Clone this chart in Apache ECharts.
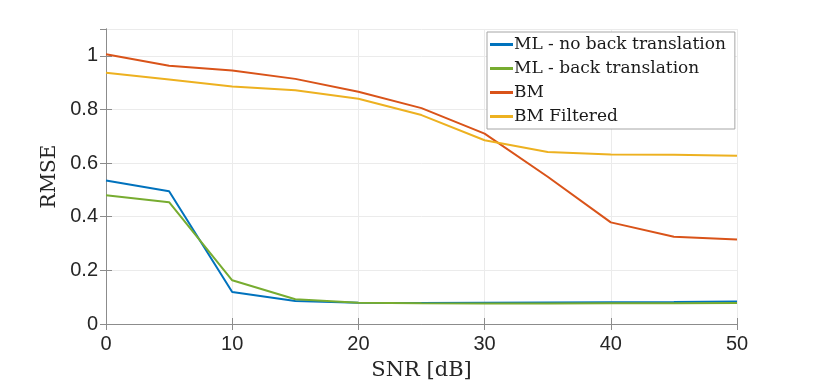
<!DOCTYPE html>
<html>
<head>
<meta charset="utf-8">
<script src="https://cdn.jsdelivr.net/npm/echarts@6/dist/echarts.min.js"></script>
<style>
  html, body { margin: 0; padding: 0; background: #fff; }
  #main { width: 814px; height: 387px; }
</style>
</head>
<body>
<div id="main"></div>
<script>
const snr = [0, 5, 10, 15, 20, 25, 30, 35, 40, 45, 50];
const mlNoBack = [0.535, 0.495, 0.119, 0.086, 0.079, 0.078, 0.079, 0.080, 0.081, 0.082, 0.084];
const mlBack = [0.480, 0.454, 0.163, 0.092, 0.079, 0.077, 0.076, 0.076, 0.077, 0.077, 0.078];
const bm = [1.006, 0.963, 0.945, 0.914, 0.866, 0.805, 0.710, 0.549, 0.379, 0.325, 0.315];
const bmFiltered = [0.937, 0.912, 0.886, 0.872, 0.840, 0.779, 0.685, 0.641, 0.632, 0.631, 0.627];

const seriesNames = ['ML - no back translation', 'ML - back translation', 'BM', 'BM Filtered'];
const seriesColors = ['#0072BD', '#77AC30', '#D95319', '#EDB120'];
const seriesData = [mlNoBack, mlBack, bm, bmFiltered];

const chart = echarts.init(document.getElementById('main'));

const axisLineStyle = { color: '#8c8c8c', width: 1 };
const tickLabel = { color: '#262626', fontFamily: 'Liberation Sans', fontSize: 20 };

const option = {
  backgroundColor: '#fff',
  animation: false,
  grid: { left: 106, right: 77, top: 29, bottom: 63, containLabel: false },
  legend: {
    orient: 'vertical',
    left: 487,
    top: 32,
    itemWidth: 23,
    itemHeight: 3,
    itemGap: 7,
    padding: [4, 9, 4, 3],
    icon: 'rect',
    backgroundColor: '#fff',
    borderColor: '#a6a6a6',
    borderWidth: 1,
    borderRadius: 0,
    textStyle: { fontFamily: 'DejaVu Serif', fontSize: 17, color: '#1a1a1a', padding: [0, 0, 0, -4] },
    data: seriesNames
  },
  xAxis: [
    {
      type: 'value', min: 0, max: 50, interval: 10,
      name: 'SNR [dB]', nameLocation: 'middle', nameGap: 36,
      nameTextStyle: { fontFamily: 'DejaVu Serif', fontSize: 21, color: '#262626' },
      axisLine: { show: true, lineStyle: axisLineStyle },
      axisTick: { show: true, inside: true, length: 6, lineStyle: axisLineStyle },
      axisLabel: Object.assign({ margin: 10 }, tickLabel),
      splitLine: { show: true, lineStyle: { color: '#ebebeb' } }
    },
    {
      type: 'value', min: 0, max: 50, interval: 10, position: 'top',
      axisLine: { show: true, lineStyle: axisLineStyle },
      axisTick: { show: true, inside: true, length: 6, lineStyle: axisLineStyle },
      axisLabel: { show: false },
      splitLine: { show: false }
    }
  ],
  yAxis: [
    {
      type: 'value', min: 0, max: 1.1, interval: 0.2,
      name: 'RMSE', nameLocation: 'middle', nameGap: 45,
      nameTextStyle: { fontFamily: 'DejaVu Serif', fontSize: 20, color: '#262626' },
      axisLine: { show: true, lineStyle: axisLineStyle },
      axisTick: { show: true, inside: true, length: 6, lineStyle: axisLineStyle },
      axisLabel: Object.assign({ margin: 8, showMaxLabel: false,
        formatter: v => (Math.abs(v - 1.1) < 1e-6 ? '' : String(+v.toFixed(1))) }, tickLabel),
      splitLine: { show: true, lineStyle: { color: '#ebebeb' } }
    },
    {
      type: 'value', min: 0, max: 1.1, interval: 0.2, position: 'right',
      axisLine: { show: true, lineStyle: axisLineStyle },
      axisTick: { show: true, inside: true, length: 6, lineStyle: axisLineStyle },
      axisLabel: { show: false },
      splitLine: { show: false }
    }
  ],
  series: seriesNames.map((name, i) => ({
    name: name,
    type: 'line',
    xAxisIndex: 0,
    yAxisIndex: 0,
    showSymbol: false,
    symbol: 'none',
    color: seriesColors[i],
    lineStyle: { width: 2, color: seriesColors[i] },
    data: snr.map((x, j) => [x, seriesData[i][j]])
  }))
};

chart.setOption(option);
</script>
</body>
</html>
